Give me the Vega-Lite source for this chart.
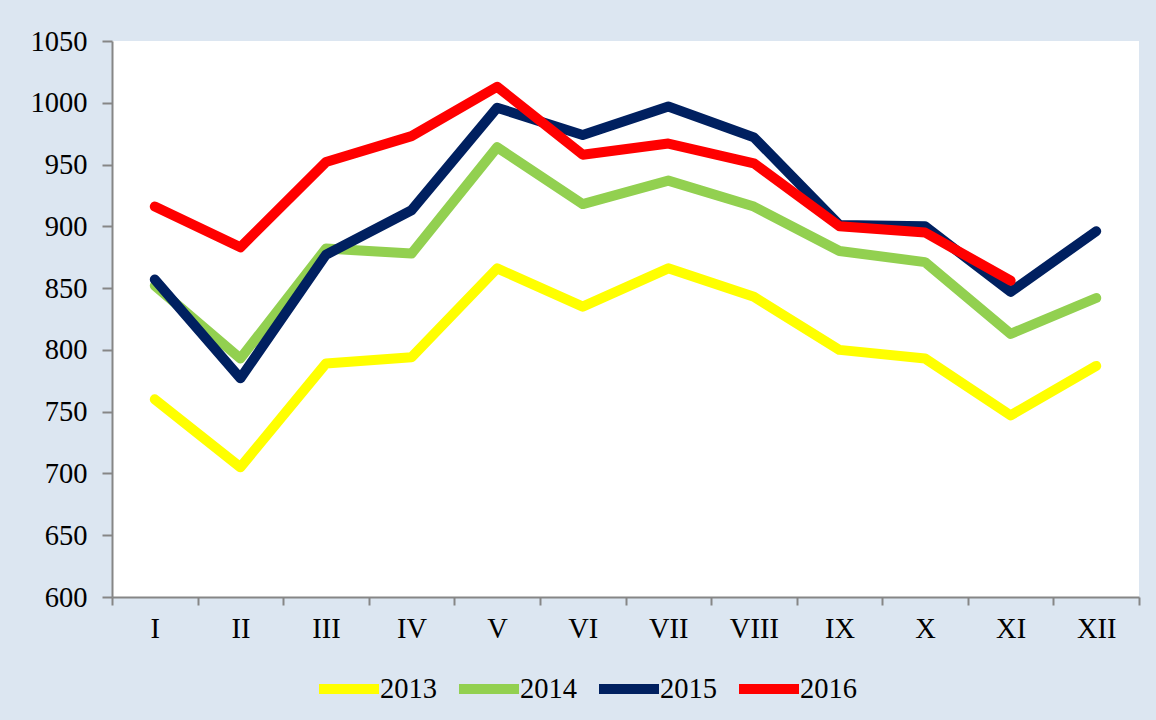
{
  "$schema": "https://vega.github.io/schema/vega-lite/v6.json",
  "width": 1027,
  "height": 556,
  "autosize": {"type": "none"},
  "padding": {"left": 112, "top": 41, "right": 17, "bottom": 123},
  "background": "#DCE6F1",
  "config": {
    "view": {"fill": "white", "stroke": null},
    "font": "Liberation Serif"
  },
  "data": {
    "values": [
      {"m": "I", "y": "2013", "v": 760}, {"m": "II", "y": "2013", "v": 705}, {"m": "III", "y": "2013", "v": 789}, {"m": "IV", "y": "2013", "v": 794},
      {"m": "V", "y": "2013", "v": 866}, {"m": "VI", "y": "2013", "v": 835}, {"m": "VII", "y": "2013", "v": 866}, {"m": "VIII", "y": "2013", "v": 843},
      {"m": "IX", "y": "2013", "v": 800}, {"m": "X", "y": "2013", "v": 793}, {"m": "XI", "y": "2013", "v": 747}, {"m": "XII", "y": "2013", "v": 787},
      {"m": "I", "y": "2014", "v": 852}, {"m": "II", "y": "2014", "v": 793}, {"m": "III", "y": "2014", "v": 882}, {"m": "IV", "y": "2014", "v": 878},
      {"m": "V", "y": "2014", "v": 964}, {"m": "VI", "y": "2014", "v": 918}, {"m": "VII", "y": "2014", "v": 937}, {"m": "VIII", "y": "2014", "v": 916},
      {"m": "IX", "y": "2014", "v": 880}, {"m": "X", "y": "2014", "v": 871}, {"m": "XI", "y": "2014", "v": 813}, {"m": "XII", "y": "2014", "v": 842},
      {"m": "I", "y": "2015", "v": 857}, {"m": "II", "y": "2015", "v": 777}, {"m": "III", "y": "2015", "v": 877}, {"m": "IV", "y": "2015", "v": 913},
      {"m": "V", "y": "2015", "v": 996}, {"m": "VI", "y": "2015", "v": 974}, {"m": "VII", "y": "2015", "v": 997}, {"m": "VIII", "y": "2015", "v": 972},
      {"m": "IX", "y": "2015", "v": 901}, {"m": "X", "y": "2015", "v": 900}, {"m": "XI", "y": "2015", "v": 847}, {"m": "XII", "y": "2015", "v": 896},
      {"m": "I", "y": "2016", "v": 916}, {"m": "II", "y": "2016", "v": 883}, {"m": "III", "y": "2016", "v": 952}, {"m": "IV", "y": "2016", "v": 973},
      {"m": "V", "y": "2016", "v": 1013}, {"m": "VI", "y": "2016", "v": 958}, {"m": "VII", "y": "2016", "v": 967}, {"m": "VIII", "y": "2016", "v": 951},
      {"m": "IX", "y": "2016", "v": 900}, {"m": "X", "y": "2016", "v": 895}, {"m": "XI", "y": "2016", "v": 856}
    ]
  },
  "mark": {"type": "line", "strokeWidth": 10, "strokeCap": "round", "strokeJoin": "round"},
  "encoding": {
    "x": {
      "field": "m", "type": "ordinal",
      "sort": ["I","II","III","IV","V","VI","VII","VIII","IX","X","XI","XII"],
      "scale": {"type": "band", "paddingInner": 0, "paddingOuter": 0},
      "bandPosition": 0.5,
      "axis": {
        "title": null, "labelAngle": 0, "tickBand": "extent",
        "labelFont": "Liberation Serif", "labelFontSize": 28.5, "labelColor": "black",
        "labelPadding": 9, "tickSize": 8, "tickColor": "#868686", "tickWidth": 2,
        "domainColor": "#868686", "domainWidth": 2, "grid": false
      }
    },
    "y": {
      "field": "v", "type": "quantitative",
      "scale": {"domain": [600, 1050], "nice": false, "zero": false},
      "axis": {
        "title": null, "values": [600,650,700,750,800,850,900,950,1000,1050], "format": "d",
        "labelFont": "Liberation Serif", "labelFontSize": 28.5, "labelColor": "black",
        "labelPadding": 15, "tickSize": 10, "tickColor": "#868686", "tickWidth": 2,
        "domainColor": "#868686", "domainWidth": 2, "grid": false
      }
    },
    "color": {
      "field": "y", "type": "nominal",
      "scale": {"domain": ["2013","2014","2015","2016"], "range": ["#FFFF00","#92D050","#002060","#FF0000"]},
      "legend": {
        "title": null, "orient": "none", "direction": "horizontal",
        "legendX": 202, "legendY": 613,
        "symbolType": "stroke", "symbolStrokeWidth": 10, "symbolSize": 3600,
        "labelFont": "Liberation Serif", "labelFontSize": 28.5, "labelColor": "black",
        "labelOffset": -4, "columnPadding": 2, "padding": 0
      }
    },
    "order": {"field": "y"}
  }
}
